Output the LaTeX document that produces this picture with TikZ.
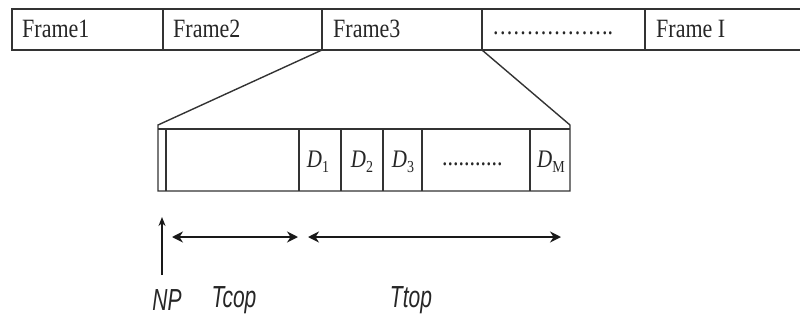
\documentclass[tikz,border=0pt]{standalone}
\usepackage{fontspec}
\setmainfont{Liberation Serif}
\newfontfamily\lblfont{Liberation Sans}
\usetikzlibrary{arrows.meta}
\tikzset{
  ln/.style={draw=black!80, line width=1.8pt},
  thin ln/.style={draw=black!80, line width=1.4pt},
  frametxt/.style={anchor=west, inner sep=0pt, font=\fontsize{22}{22}\selectfont, text=black!85},
  dlabel/.style={inner sep=0pt, font=\fontsize{21}{21}\selectfont\itshape, text=black!85},
  tlabel/.style={inner sep=0pt, font=\lblfont\fontsize{21}{21}\selectfont\itshape, text=black!85},
  dim/.style={draw=black!90, line width=2.2pt, {Stealth[length=11pt,width=11pt]}-{Stealth[length=11pt,width=11pt]}},
  up/.style={draw=black!90, line width=1.6pt, -{Stealth[length=9pt,width=7pt]}}
}
\newcommand{\vs}[1]{\scalebox{1}[1.2]{#1}}
\newcommand{\vsb}[1]{\scalebox{1}[1.45]{#1}}
\newcommand{\dsub}[2]{#1\raisebox{-4pt}{\fontsize{14}{14}\selectfont\upshape #2}}
\begin{document}
\begin{tikzpicture}[x=1pt,y=-1pt]
\useasboundingbox (0,0) rectangle (800,332);
% top bar
\coordinate (tl) at (12,9);
\coordinate (bl) at (12,50);
\coordinate (tr) at (800,9);
\coordinate (br) at (800,50);
\draw[ln] (tr) -- (tl) -- (bl) -- (br);
\foreach \x/\n in {163/d1,322/d2,482/d3,645/d4}{
  \coordinate (\n t) at (\x,9);
  \coordinate (\n b) at (\x,50);
  \draw[ln] (\n t) -- (\n b);
}
\node[frametxt] (f1) at (22,29) {\vs{Frame1}};
\node[frametxt] (f2) at (173,29) {\vs{Frame2}};
\node[frametxt] (f3) at (333,29) {\vs{Frame3}};
\node[frametxt] (f4) at (493,33) {\vs{\makebox[120pt][s]{.\hfil.\hfil.\hfil.\hfil.\hfil.\hfil.\hfil.\hfil.\hfil.\hfil.\hfil.\hfil.\hfil.\hfil.\hfil.\hfil..}}};
\node[frametxt] (f5) at (656,29) {\vs{Frame I}};
% zoom lines
\coordinate (zl) at (158,125);
\coordinate (zr) at (570,125);
\coordinate (bbl) at (158,191);
\coordinate (bbr) at (570,191);
\coordinate (btl) at (158,129);
\coordinate (btr) at (570,129);
\draw[thin ln] (d2b) -- (zl) -- (bbl) -- (bbr) -- (zr) -- (d3b);
\draw[thin ln] (btl) -- (btr);
\foreach \x/\n in {166/e0,299/e1,341/e2,383/e3,422/e4,530/e5}{
  \coordinate (\n t) at (\x,129);
  \coordinate (\n b) at (\x,191);
  \draw[thin ln] (\n t) -- (\n b);
}
\node[dlabel] (D1) at (318,162) {\vs{\dsub{D}{1}}};
\node[dlabel] (D2) at (362,162) {\vs{\dsub{D}{2}}};
\node[dlabel] (D3) at (403,162) {\vs{\dsub{D}{3}}};
\node[frametxt, anchor=center] (Dd) at (472,164) {\vs{\makebox[60pt][s]{.\hfil.\hfil.\hfil.\hfil.\hfil.\hfil.\hfil.\hfil.\hfil.\hfil.}}};
\node[dlabel] (DM) at (551,162) {\vs{\dsub{D}{M}}};
% arrows
\coordinate (np0) at (162,275);
\coordinate (np1) at (162,217);
\draw[up] (np0) -- (np1);
\coordinate (tc0) at (172,237);
\coordinate (tc1) at (298,237);
\draw[dim] (tc0) -- (tc1);
\coordinate (tt0) at (308,237);
\coordinate (tt1) at (561,237);
\draw[dim] (tt0) -- (tt1);
\node[tlabel] (NP) at (167,300) {\vsb{NP}};
\node[tlabel] (Tcop) at (234,300) {\vsb{Tcop}};
\node[tlabel] (Ttop) at (411,300) {\vsb{Ttop}};
\end{tikzpicture}
\end{document}
